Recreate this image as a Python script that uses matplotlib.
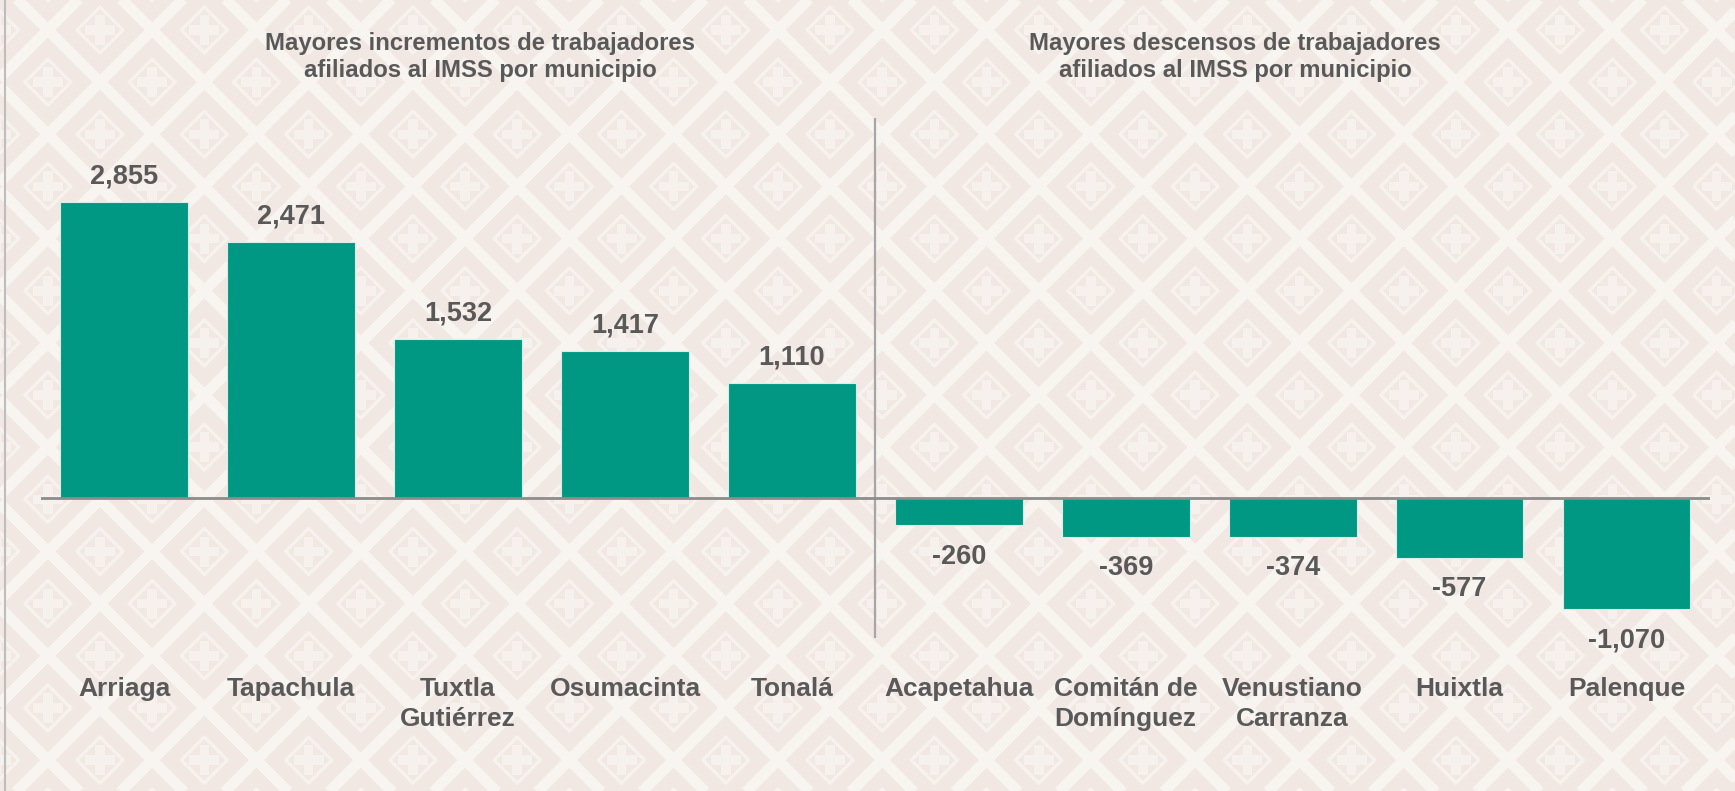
import numpy as np
import matplotlib.pyplot as plt
from matplotlib.collections import LineCollection, PolyCollection

# datos: variación de trabajadores afiliados al IMSS
municipios = ['Arriaga', 'Tapachula', 'Tuxtla\nGutiérrez', 'Osumacinta', 'Tonalá',
              'Acapetahua', 'Comitán de\nDomínguez', 'Venustiano\nCarranza', 'Huixtla', 'Palenque']
variacion = [2855, 2471, 1532, 1417, 1110, -260, -369, -374, -577, -1070]
titulos = ['Mayores incrementos de trabajadores\nafiliados al IMSS por municipio',
           'Mayores descensos de trabajadores\nafiliados al IMSS por municipio']

plt.rcParams['font.family'] = ['Liberation Sans', 'DejaVu Sans']

W, H = 1735, 791
verde = '#009882'
gris = '#595959'
fondo = '#f2e8e3'
claro = '#f8f4f0'

fig = plt.figure(figsize=(W / 100, H / 100), dpi=100)
fig.patch.set_facecolor(fondo)

# fondo con patrón de rombos y cruces (en pixeles)
bg = fig.add_axes([0, 0, 1, 1], zorder=-5)
bg.set_xlim(0, W)
bg.set_ylim(H, 0)
bg.axis('off')
bg.set_facecolor(fondo)

P = 104.3
x0, y0 = 100, 30
lineas = []
for k in range(-12, 30):
    c = 182.15 + k * P
    lineas.append([(c + 60, -60), (c - 900, 900)])
    c = 17.85 + k * P
    lineas.append([(c - 60, -60), (c + 900, 900)])
bg.add_collection(LineCollection(lineas, colors=claro, linewidths=7.8))

rombos, cruces = [], []
d, a, t = 23, 15, 4.8
for i in range(-2, 20):
    for j in range(-2, 10):
        for s in (0, 0.5):
            cx = x0 + P * (i + s)
            cy = y0 + P * (j + s)
            rombos.append([(cx - d, cy), (cx, cy - d), (cx + d, cy), (cx, cy + d)])
            cruces.append([(cx - t, cy - a), (cx + t, cy - a), (cx + t, cy - t), (cx + a, cy - t),
                           (cx + a, cy + t), (cx + t, cy + t), (cx + t, cy + a), (cx - t, cy + a),
                           (cx - t, cy + t), (cx - a, cy + t), (cx - a, cy - t), (cx - t, cy - t)])
bg.add_collection(PolyCollection(rombos, facecolors='none', edgecolors='#f7f2ee', linewidths=2.4))
bg.add_collection(PolyCollection(cruces, facecolors='#f7f1ed', edgecolors='none'))
bg.plot([5, 5], [0, H], color='#bdbdbd', lw=1.5)

# gráfica principal
ax = fig.add_axes([40.7 / W, (H - 638) / H, 1669.3 / W, 520 / H])
ax.patch.set_alpha(0)
x = np.arange(len(municipios))
ax.bar(x, variacion, width=0.765, color=verde, edgecolor='#d9eee9', linewidth=0.8, zorder=2)
ax.set_xlim(-0.5, len(municipios) - 0.5)
ax.set_ylim(-1346, 3664)

ax.axhline(0, color='#8c8c8c', lw=2, zorder=3)
ax.axvline(4.5, color='#a6a6a6', lw=1.6, zorder=1)

for xi, v in zip(x, variacion):
    off = 18.5 if v > 0 else -22.5
    ax.annotate(f'{v:,}', (xi, v), xytext=(0, off), textcoords='offset points',
                ha='center', va='center', fontsize=19.5, fontweight='bold', color=gris)

for xi, nombre in zip(x, municipios):
    ax.annotate(nombre, (xi, 0), xycoords=('data', 'axes fraction'), xytext=(0, -28),
                textcoords='offset points', ha='center', va='top', fontsize=19,
                fontweight='bold', color=gris, linespacing=1.3)

for cx, txt in zip([480, 1235], titulos):
    fig.text(cx / W, 1 - 57 / H, txt, ha='center', va='center', fontsize=17.2,
             fontweight='bold', color=gris, linespacing=1.25)

ax.set_xticks([])
ax.set_yticks([])
for sp in ax.spines.values():
    sp.set_visible(False)

fig.savefig('out.png', dpi=100, facecolor=fig.get_facecolor())
